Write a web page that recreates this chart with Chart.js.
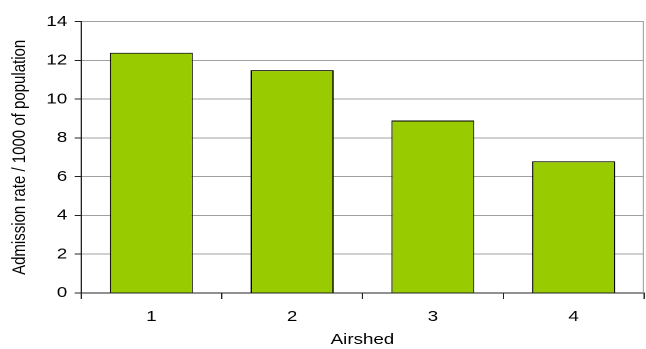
<!DOCTYPE html>
<html>
<head>
<meta charset="utf-8">
<script src="https://cdn.jsdelivr.net/npm/chart.js@4/dist/chart.umd.min.js"></script>
<style>
  html, body { margin: 0; padding: 0; background: #fff; overflow: hidden; }
  #wrap { width: 517px; height: 349px; transform: scaleX(1.2495); transform-origin: 0 0; }
</style>
</head>
<body>
<div id="wrap"><canvas id="c" width="517" height="349"></canvas></div>
<script>
// Hospital admissions per airshed
const airsheds = ['1', '2', '3', '4'];
const admissionRates = [12.4, 11.5, 8.9, 6.8];
const yTicks = [0, 2, 4, 6, 8, 10, 12, 14];

const FONT = { family: "'Liberation Sans', Arial, sans-serif", size: 15 };
const AXIS_COLOR = '#222';
const GRID_COLOR = '#a0a0a0';

// Grey frame line on the right side of the plot area
const rightFrame = {
  id: 'rightFrame',
  afterDraw(chart) {
    const { ctx, chartArea: a } = chart;
    ctx.save();
    ctx.strokeStyle = GRID_COLOR;
    ctx.lineWidth = 1;
    ctx.beginPath();
    ctx.moveTo(a.right - 0.5, a.top);
    ctx.lineTo(a.right - 0.5, a.bottom);
    ctx.stroke();
    ctx.restore();
  }
};

new Chart(document.getElementById('c'), {
  type: 'bar',
  data: {
    labels: airsheds,
    datasets: [{
      data: admissionRates,
      backgroundColor: '#99CC00',
      borderColor: '#000',
      borderWidth: 1,
      categoryPercentage: 1,
      barPercentage: 0.59
    }]
  },
  options: {
    responsive: false,
    animation: false,
    devicePixelRatio: 2,
    layout: { padding: { top: 21.7, right: 1.6, bottom: 0, left: 0 } },
    plugins: { legend: { display: false }, tooltip: { enabled: false } },
    scales: {
      x: {
        offset: true,
        grid: { display: true, drawOnChartArea: false, offset: true, tickLength: 6, tickColor: AXIS_COLOR },
        border: { color: AXIS_COLOR, width: 1 },
        ticks: { color: '#000', font: FONT, padding: 9, maxRotation: 0 },
        title: { display: true, text: 'Airshed', color: '#000', font: FONT, padding: { top: 0, bottom: 0 } },
        afterFit(scale) { scale.height = 56; }
      },
      y: {
        min: 0,
        max: 14,
        afterBuildTicks(scale) { scale.ticks = yTicks.map(v => ({ value: v })); },
        grid: { color: GRID_COLOR, tickColor: AXIS_COLOR, tickLength: 5 },
        border: { color: AXIS_COLOR, width: 1 },
        ticks: { color: '#000', font: FONT, padding: 6 },
        title: { display: true, text: 'Admission rate / 1000 of population', color: '#000', font: FONT, padding: { top: 7, bottom: 0 } },
        afterFit(scale) { scale.width = 64.8; }
      }
    }
  },
  plugins: [rightFrame]
});
</script>
</body>
</html>
